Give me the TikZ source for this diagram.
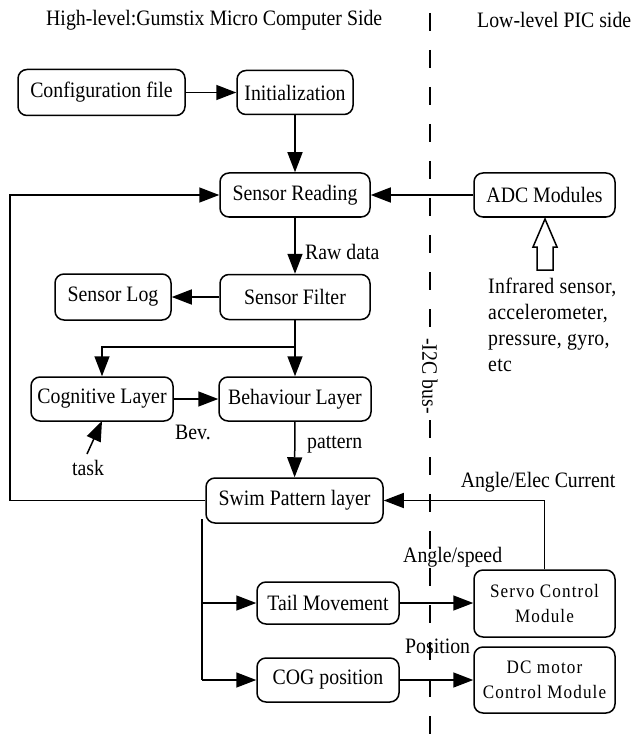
\documentclass[tikz,border=0pt]{standalone}
\usepackage{fontspec}
\setmainfont{Liberation Serif}[FakeStretch=0.9]
\usetikzlibrary{arrows.meta}
\begin{document}
\begin{tikzpicture}[x=1pt,y=-1pt,
  every node/.style={font=\fontsize{22}{26}\selectfont},
  box/.style={draw, line width=1.5pt, rounded corners=9pt, inner sep=0pt, minimum height=44pt, align=center},
  small/.style={font=\fontsize{19}{25}\selectfont\addfontfeature{LetterSpace=6}},
  ln/.style={line width=1.5pt},
  arr/.style={line width=1.5pt, -{Triangle[length=20pt,width=15pt]}},
  lbl/.style={inner sep=1pt}]
\useasboundingbox (0,0) rectangle (633,743);
% titles
\node[lbl, anchor=west] (t1) at (45,20) {High-level:Gumstix Micro Computer Side};
\node[lbl, anchor=west] (t2) at (476,20) {Low-level PIC side};
% divider
\coordinate (dtop) at (430,13);
\coordinate (dbot) at (430,743);
\draw[line width=1.5pt, dash pattern=on 18pt off 19pt] (dtop) -- (dbot);
\node[lbl, rotate=-90, fill=white, inner sep=2pt] (bus) at (430,376) {-I2C bus-};
% boxes
\node[box, minimum width=167pt, minimum height=46pt] (config) at (101.5,92.5) {Configuration file};
\node[box, minimum width=116pt] (init) at (295,92.5) {Initialization};
\node[box, minimum width=150pt] (sread) at (295,195) {Sensor Reading};
\node[box, minimum width=141pt] (adc) at (544.5,195) {ADC Modules};
\node[box, minimum width=116pt, minimum height=46pt] (slog) at (113,297) {Sensor Log};
\node[box, minimum width=150pt, minimum height=45pt] (sfilt) at (295,297) {Sensor Filter};
\node[box, minimum width=142pt] (cog) at (102,399) {Cognitive Layer};
\node[box, minimum width=152pt] (beh) at (295,399) {Behaviour Layer};
\node[box, minimum width=177pt, minimum height=45pt] (swim) at (294.5,500.5) {Swim Pattern layer};
\node[box, minimum width=142pt, minimum height=42pt] (tail) at (328,603) {Tail Movement};
\node[box, minimum width=142pt] (cogp) at (328,680) {COG position};
\node[box, small, minimum width=141pt, minimum height=67pt] (servo) at (544.5,603.5) {Servo Control\\Module};
\node[box, small, minimum width=141pt, minimum height=66pt] (dc) at (544.5,680) {DC motor\\Control Module};
% connectors
\draw[arr] (config) -- (init);
\draw[arr] (init) -- (sread);
\draw[arr] (adc) -- (sread);
\draw[arr] (sread) -- (sfilt);
\draw[arr] (sfilt) -- (slog);
\coordinate (junc) at (295,347);
\coordinate (jl) at (102,347);
\draw[ln] (sfilt.south) -- (junc);
\draw[arr] (junc) -- (beh.north);
\draw[arr] (junc) -- (jl) -- (jl |- cog.north);
\draw[arr] (cog) -- (beh);
\draw[arr] (beh) -- (swim);
\coordinate (fbl) at (10,500.5);
\coordinate (fbt) at (10,195);
\draw[arr] (swim.west) -- (fbl) -- (fbt) -- (sread.west);
\coordinate (sv) at (544.5,500.5);
\draw[arr] (servo.north) -- (sv) -- (swim.east);
\coordinate (bt) at (202,519);
\coordinate (bb) at (202,680);
\draw[ln] (bt) -- (bb);
\draw[arr] (bb) -- (cogp.west);
\draw[arr] (bt |- tail.west) -- (tail.west);
\draw[arr] (tail) -- (servo.west |- tail.east);
\draw[arr] (cogp) -- (dc.west |- cogp.east);
\coordinate (task) at (87,454);
\draw[arr] (task) -- (102,421);
% hollow arrow below ADC
\draw[line width=1.5pt, fill=white] (545,219) -- (557,247) -- (553,247) -- (553,270) -- (537,270) -- (537,247) -- (533,247) -- cycle;
% labels
\node[lbl, anchor=west] (raw) at (304,252) {Raw data};
\node[lbl] (bev) at (193,432) {Bev.};
\node[lbl, anchor=west] (pat) at (306,445) {pattern};
\node[lbl] (tasklbl) at (88,468) {task};
\node[lbl] (aec) at (538,482) {Angle/Elec Current};
\node[lbl, anchor=west] (asp) at (402,557) {Angle/speed};
\node[lbl, anchor=west] (pos) at (404,646) {Position};
\node[lbl, anchor=north west, align=left, font=\fontsize{22}{26}\selectfont\addfontfeature{LetterSpace=1.5}] (inf) at (487,277) {Infrared sensor,\\accelerometer,\\pressure, gyro,\\etc};
\end{tikzpicture}
\end{document}
